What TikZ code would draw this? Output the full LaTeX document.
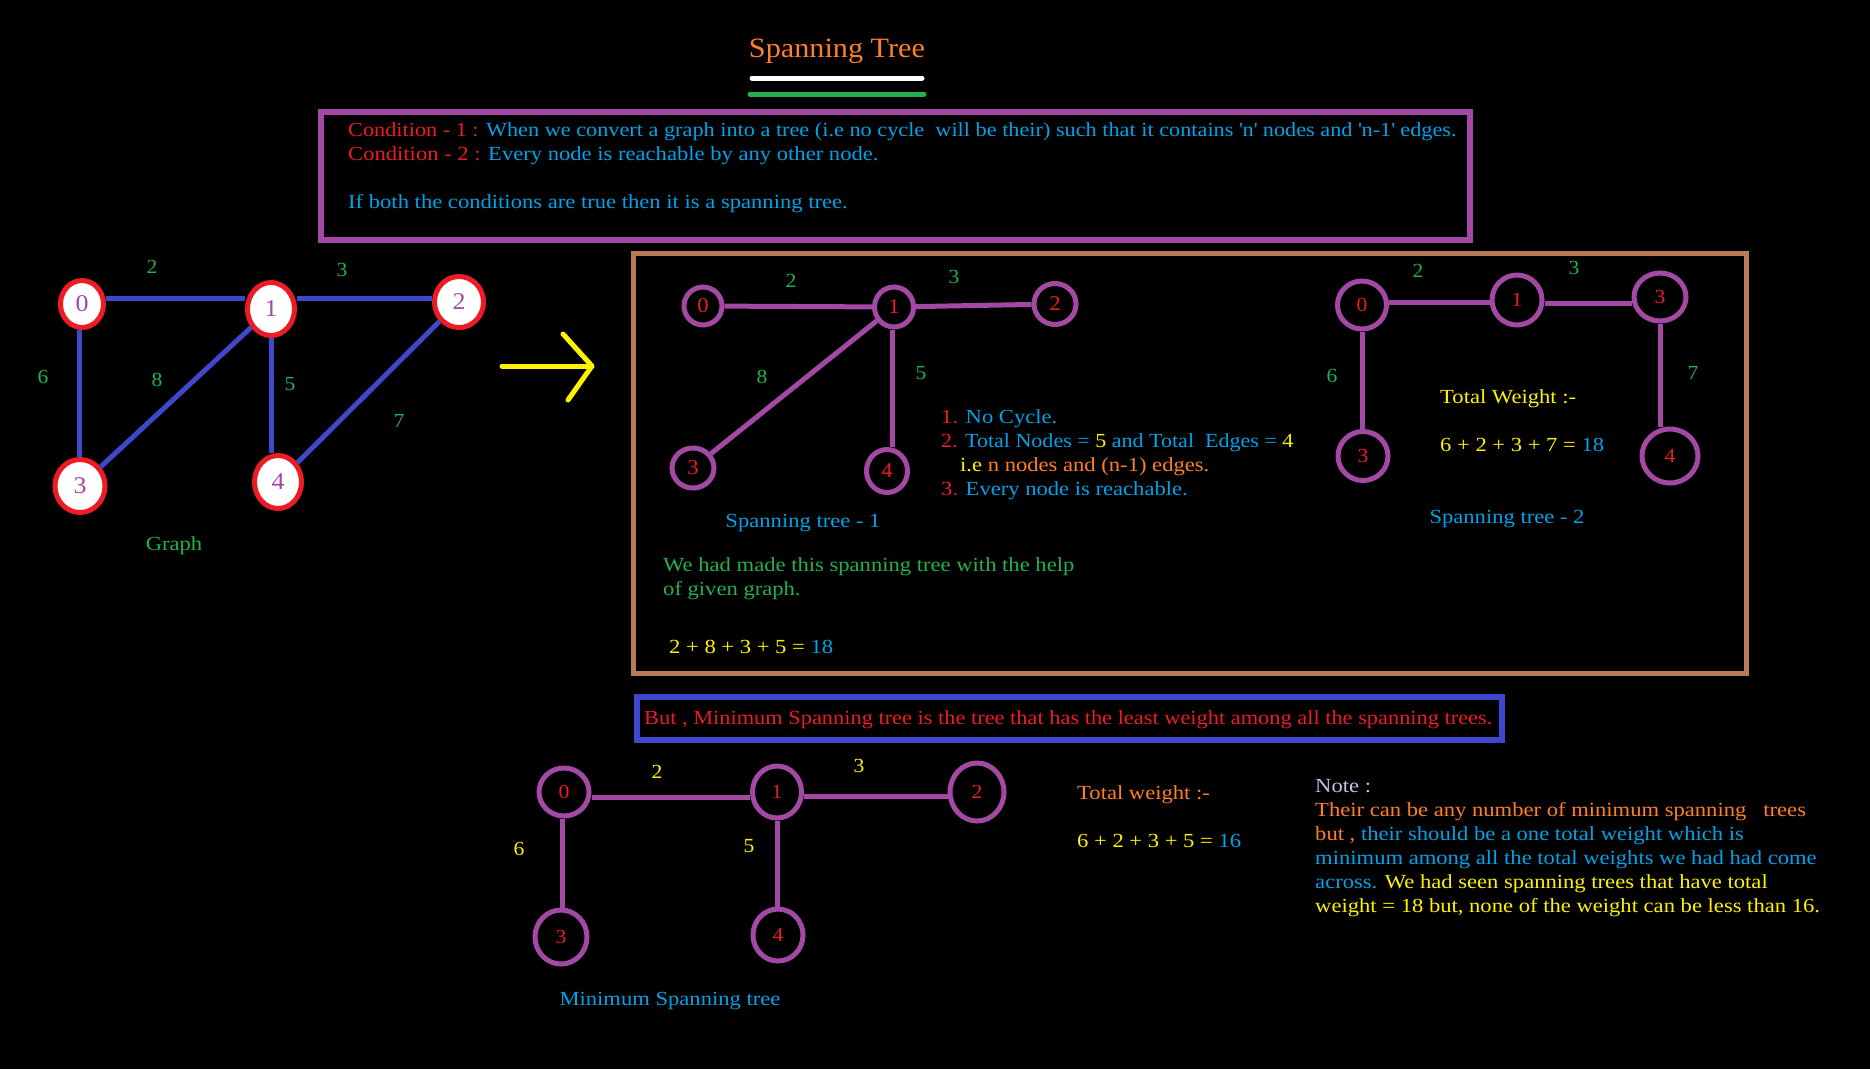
\documentclass[tikz,border=0pt]{standalone}
\usepackage{fontspec}
\setmainfont{Liberation Serif}[FakeStretch=1.13]
\newfontfamily\titlefont{Liberation Serif}[FakeStretch=1.08]
\usetikzlibrary{shapes.geometric}
\definecolor{pred}{HTML}{ED1C24}
\definecolor{ppurple}{HTML}{A349A4}
\definecolor{pindigo}{HTML}{3F48CC}
\definecolor{pgreen}{HTML}{22B14C}
\definecolor{porange}{HTML}{FF7F27}
\definecolor{pyellow}{HTML}{FFF200}
\definecolor{pblue}{HTML}{00A2E8}
\definecolor{pbrown}{HTML}{B97A57}
\definecolor{plav}{HTML}{C8BFE7}
\newcommand\fsbody{\fontsize{20}{24}\selectfont}
\newcommand\fslab{\titlefont\fontsize{20}{20}\selectfont}
\newcommand\sq{\textquotesingle}
\begin{document}
\begin{tikzpicture}[x=1pt,y=-1pt,
  gnode/.style={ellipse,draw=pred,fill=white,line width=5pt,inner sep=0pt,text=ppurple,font=\titlefont\fontsize{24}{24}\selectfont},
  tnode/.style={ellipse,draw=ppurple,line width=5pt,inner sep=0pt,text=pred,font=\fslab},
  gedge/.style={draw=pindigo,line width=5pt},
  tedge/.style={draw=ppurple,line width=5pt},
  elab/.style={inner sep=0pt,font=\fslab},
  txt/.style={inner sep=0pt,anchor=base west,font=\fsbody},
  ctxt/.style={inner sep=0pt,anchor=base,font=\fsbody},
  frame/.style={line width=6pt},
  pen/.style={line width=5pt,line cap=round,line join=round}
]
\fill[black] (0,0) rectangle (1870,1069);
\useasboundingbox (0,0) rectangle (1870,1069);

% title
\node[inner sep=0pt,anchor=base,text=porange,font=\titlefont\fontsize{28}{28}\selectfont] (title) at (837,57) {Spanning Tree};
\coordinate (wl1) at (752,78); \coordinate (wl2) at (922,78);
\coordinate (gl1) at (750,94); \coordinate (gl2) at (924,94);
\draw[pen,white] (wl1) -- (wl2);
\draw[pen,pgreen] (gl1) -- (gl2);

% condition box
\draw[frame,ppurple] (321,112) rectangle (1470,240);
\node[txt] (c1) at (348,136) {\scalebox{0.985}[1]{\textcolor{pred}{Condition - 1 :} \textcolor{pblue}{When we convert a graph into a tree (i.e no cycle\ \ will be their) such that it contains \sq n\sq{} nodes and \sq n-1\sq{} edges.}}};
\node[txt] (c2) at (348,160) {\textcolor{pred}{Condition - 2 :} \textcolor{pblue}{Every node is reachable by any other node.}};
\node[txt] (c3) at (348,208) {\textcolor{pblue}{If both the conditions are true then it is a spanning tree.}};

% graph
\node[gnode,minimum width=43pt,minimum height=47pt] (g0) at (82,304) {0};
\node[gnode,minimum width=47pt,minimum height=53pt] (g1) at (271,309) {1};
\node[gnode,minimum width=49pt,minimum height=51pt] (g2) at (459,302) {2};
\node[gnode,minimum width=50pt,minimum height=53pt] (g3) at (80,486) {3};
\node[gnode,minimum width=47pt,minimum height=53pt] (g4) at (278,482) {4};
\draw[gedge] ([yshift=6pt]g0.east) -- ([yshift=11pt]g1.west);
\draw[gedge] ([yshift=11pt]g1.east) -- ([yshift=4pt]g2.west);
\draw[gedge] ([xshift=-3pt]g0.south) -- ([xshift=-3pt]g0.south |- g3.north);
\draw[gedge] (g1) -- (g3);
\draw[gedge] (g1.south) -- (g1.south |- g4.north);
\draw[gedge] (g2) -- (g4);
\node[elab,text=pgreen] (gw2) at (152,267) {2};
\node[elab,text=pgreen] (gw3) at (342,270) {3};
\node[elab,text=pgreen] (gw6) at (43,377) {6};
\node[elab,text=pgreen] (gw8) at (157,380) {8};
\node[elab,text=pgreen] (gw5) at (290,384) {5};
\node[elab,text=pgreen] (gw7) at (399,421) {7};
\node[ctxt,text=pgreen] (glab) at (174,550) {Graph};

% yellow arrow
\coordinate (a0) at (502,366); \coordinate (atip) at (592,366);
\coordinate (ah1) at (563,334); \coordinate (ah2) at (568,400);
\draw[pen,pyellow] (a0) -- (atip);
\draw[pen,pyellow] (ah1) -- (atip) -- (ah2);

% brown box
\draw[line width=5pt,pbrown] (633,253) rectangle (1746,673);

% spanning tree 1
\node[tnode,minimum width=38pt,minimum height=38pt,font=\titlefont\fontsize{21}{21}\selectfont] (s0) at (703,306) {0};
\node[tnode,minimum width=39pt,minimum height=40pt,font=\titlefont\fontsize{21}{21}\selectfont] (s1) at (894,307) {1};
\node[tnode,minimum width=42pt,minimum height=41pt,font=\titlefont\fontsize{21}{21}\selectfont] (s2) at (1055,304) {2};
\node[tnode,minimum width=42pt,minimum height=40pt,font=\titlefont\fontsize{21}{21}\selectfont] (s3) at (693,468) {3};
\node[tnode,minimum width=41pt,minimum height=43pt,font=\titlefont\fontsize{21}{21}\selectfont] (s4) at (887,471) {4};
\draw[tedge] (s0) -- (s1);
\draw[tedge] (s1) -- (s2);
\draw[tedge] (s1) -- (s3);
\draw[tedge] ([xshift=-2pt]s1.south) -- ([xshift=-2pt]s1.south |- s4.north);
\node[elab,text=pgreen] (sw2) at (791,281) {2};
\node[elab,text=pgreen] (sw3) at (954,277) {3};
\node[elab,text=pgreen] (sw8) at (762,377) {8};
\node[elab,text=pgreen] (sw5) at (921,373) {5};
\node[ctxt,text=pblue] (s1lab) at (803,527) {Spanning tree - 1};
\node[txt] (l1) at (941,423) {\textcolor{pred}{1.} \textcolor{pblue}{No Cycle.}};
\node[txt] (l2) at (941,447) {\scalebox{0.975}[1]{\textcolor{pred}{2.} \textcolor{pblue}{Total Nodes =} \textcolor{pyellow}{5} \textcolor{pblue}{and Total\ \ Edges =} \textcolor{pyellow}{4}}};
\node[txt] (l3) at (960,471) {\textcolor{pyellow}{i.e} \textcolor{porange}{n nodes and (n-1) edges.}};
\node[txt] (l4) at (941,495) {\textcolor{pred}{3.} \textcolor{pblue}{Every node is reachable.}};
\node[txt,text=pgreen] (w1) at (663,571) {We had made this spanning tree with the help};
\node[txt,text=pgreen] (w2) at (663,595) {of given graph.};
\node[txt] (sum1) at (669,653) {\textcolor{pyellow}{2 + 8 + 3 + 5 =} \textcolor{pblue}{18}};

% spanning tree 2
\node[tnode,minimum width=49pt,minimum height=48pt] (t0) at (1362,305) {0};
\node[tnode,minimum width=50pt,minimum height=50pt] (t1) at (1517,300) {1};
\node[tnode,minimum width=52pt,minimum height=48pt] (t3) at (1660,297) {3};
\node[tnode,minimum width=50pt,minimum height=49pt] (t3b) at (1363,456) {3};
\node[tnode,minimum width=56pt,minimum height=54pt] (t4) at (1670,456) {4};
\draw[tedge] ([yshift=3pt]t0.east) -- ([yshift=-2pt]t1.west);
\draw[tedge] ([yshift=-3pt]t1.east) -- ([yshift=-6pt]t3.west);
\draw[tedge] (t0.south) -- (t0.south |- t3b.north);
\draw[tedge] (t3.south) -- (t3.south |- t4.north);
\node[elab,text=pgreen] (tw2) at (1418,271) {2};
\node[elab,text=pgreen] (tw3) at (1574,268) {3};
\node[elab,text=pgreen] (tw6) at (1332,376) {6};
\node[elab,text=pgreen] (tw7) at (1693,373) {7};
\node[txt,text=pyellow] (tw) at (1440,403) {Total Weight :-};
\node[txt] (sum2) at (1440,451) {\textcolor{pyellow}{6 + 2 + 3 + 7 =} \textcolor{pblue}{18}};
\node[ctxt,text=pblue] (t2lab) at (1507,523) {Spanning tree - 2};

% blue box
\draw[frame,pindigo] (637,697) rectangle (1502,740);
\node[txt,text=pred] (but) at (644,724) {\scalebox{0.99}[1]{But , Minimum Spanning tree is the tree that has the least weight among all the spanning trees.}};

% minimum spanning tree
\node[tnode,minimum width=50pt,minimum height=48pt] (m0) at (564,792) {0};
\node[tnode,minimum width=49pt,minimum height=52pt] (m1) at (777,792) {1};
\node[tnode,minimum width=54pt,minimum height=58pt] (m2) at (977,792) {2};
\node[tnode,minimum width=52pt,minimum height=54pt] (m3) at (561,937) {3};
\node[tnode,minimum width=50pt,minimum height=52pt] (m4) at (778,935) {4};
\draw[tedge] ([yshift=-5pt]m0.east) -- ([yshift=-5pt]m1.west);
\draw[tedge] ([yshift=-4pt]m1.east) -- ([yshift=-4pt]m2.west);
\draw[tedge] ([xshift=-2pt]m0.south) -- ([xshift=-2pt]m0.south |- m3.north);
\draw[tedge] (m1.south) -- (m1.south |- m4.north);
\node[elab,text=pyellow] (mw2) at (657,772) {2};
\node[elab,text=pyellow] (mw3) at (859,766) {3};
\node[elab,text=pyellow] (mw6) at (519,849) {6};
\node[elab,text=pyellow] (mw5) at (749,846) {5};
\node[ctxt,text=pblue] (mlab) at (670,1005) {Minimum Spanning tree};
\node[txt,text=porange] (mtw) at (1077,799) {Total weight :-};
\node[txt] (sum3) at (1077,847) {\textcolor{pyellow}{6 + 2 + 3 + 5 =} \textcolor{pblue}{16}};

% note
\node[txt,text=plav] (n0) at (1315,792) {Note :};
\node[txt,text=porange] (n1) at (1315,816) {Their can be any number of minimum spanning\ \ \ trees};
\node[txt] (n2) at (1315,840) {\textcolor{porange}{but ,} \textcolor{pblue}{their should be a one total weight which is}};
\node[txt,text=pblue] (n3) at (1315,864) {minimum among all the total weights we had had come};
\node[txt] (n4) at (1315,888) {\textcolor{pblue}{across.} \textcolor{pyellow}{We had seen spanning trees that have total}};
\node[txt,text=pyellow] (n5) at (1315,912) {weight = 18 but, none of the weight can be less than 16.};
\end{tikzpicture}
\end{document}
